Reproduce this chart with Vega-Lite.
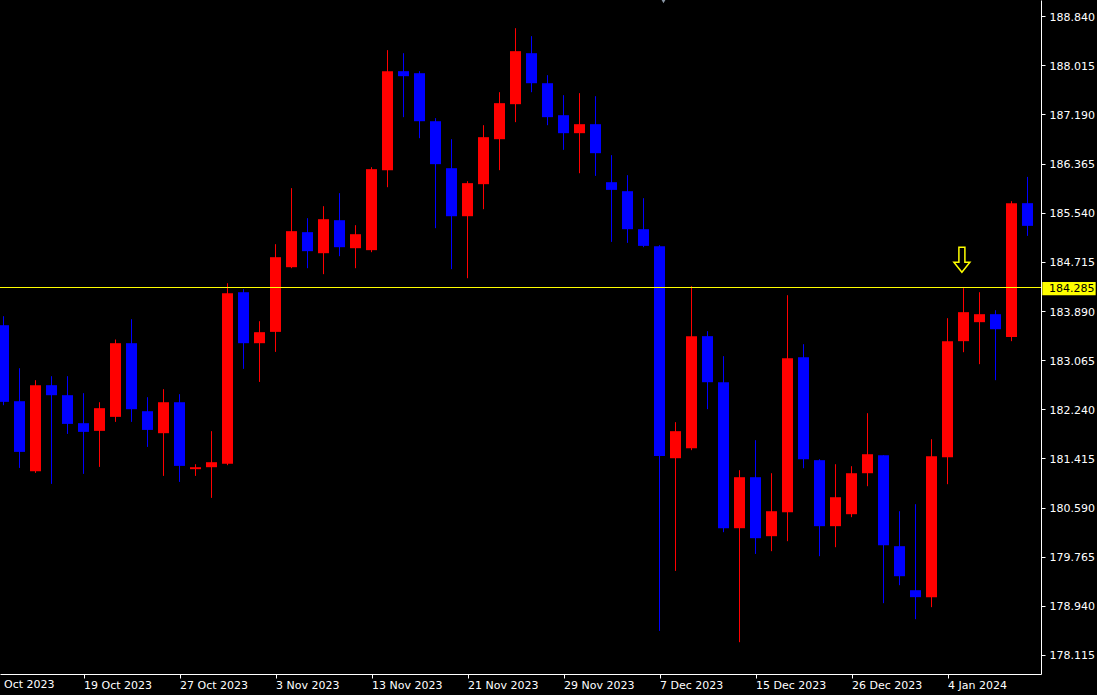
{
  "$schema": "https://vega.github.io/schema/vega-lite/v6.json",
  "autosize": {"type": "none"},
  "width": 1041,
  "height": 674,
  "padding": {"left": 0, "top": 0, "right": 56, "bottom": 21},
  "background": "#000000",
  "config": {"view": {"stroke": null}, "font": "DejaVu Sans", "scale": {"continuousPadding": 0}},
  "datasets": {
    "candles": [
    {"i":0,"open":183.652,"high":183.803,"low":182.309,"close":182.365},
    {"i":1,"open":182.376,"high":182.930,"low":181.256,"close":181.525},
    {"i":2,"open":181.201,"high":182.729,"low":181.172,"close":182.645},
    {"i":3,"open":182.645,"high":182.796,"low":180.988,"close":182.477},
    {"i":4,"open":182.477,"high":182.796,"low":181.827,"close":181.995},
    {"i":5,"open":182.007,"high":182.511,"low":181.156,"close":181.861},
    {"i":6,"open":181.878,"high":182.359,"low":181.273,"close":182.259},
    {"i":7,"open":182.113,"high":183.412,"low":182.029,"close":183.350},
    {"i":8,"open":183.350,"high":183.753,"low":182.029,"close":182.242},
    {"i":9,"open":182.208,"high":182.443,"low":181.609,"close":181.894},
    {"i":10,"open":181.839,"high":182.578,"low":181.122,"close":182.359},
    {"i":11,"open":182.359,"high":182.494,"low":181.021,"close":181.290},
    {"i":12,"open":181.235,"high":181.318,"low":181.122,"close":181.268},
    {"i":13,"open":181.268,"high":181.873,"low":180.753,"close":181.352},
    {"i":14,"open":181.324,"high":184.357,"low":181.302,"close":184.190},
    {"i":15,"open":184.206,"high":184.257,"low":182.919,"close":183.350},
    {"i":16,"open":183.350,"high":183.719,"low":182.700,"close":183.535},
    {"i":17,"open":183.540,"high":185.012,"low":183.204,"close":184.794},
    {"i":18,"open":184.626,"high":185.953,"low":184.609,"close":185.231},
    {"i":19,"open":185.214,"high":185.449,"low":184.609,"close":184.895},
    {"i":20,"open":184.861,"high":185.650,"low":184.509,"close":185.432},
    {"i":21,"open":185.415,"high":185.869,"low":184.811,"close":184.962},
    {"i":22,"open":184.945,"high":185.331,"low":184.609,"close":185.180},
    {"i":23,"open":184.912,"high":186.305,"low":184.878,"close":186.272},
    {"i":24,"open":186.255,"high":188.270,"low":185.969,"close":187.917},
    {"i":25,"open":187.917,"high":188.219,"low":187.145,"close":187.833},
    {"i":26,"open":187.883,"high":187.917,"low":186.792,"close":187.077},
    {"i":27,"open":187.077,"high":187.128,"low":185.281,"close":186.356},
    {"i":28,"open":186.288,"high":186.775,"low":184.593,"close":185.482},
    {"i":29,"open":185.482,"high":186.070,"low":184.441,"close":186.037},
    {"i":30,"open":186.020,"high":187.010,"low":185.600,"close":186.809},
    {"i":31,"open":186.775,"high":187.564,"low":186.255,"close":187.380},
    {"i":32,"open":187.363,"high":188.639,"low":187.061,"close":188.253},
    {"i":33,"open":188.219,"high":188.505,"low":187.564,"close":187.715},
    {"i":34,"open":187.715,"high":187.850,"low":187.010,"close":187.145},
    {"i":35,"open":187.178,"high":187.514,"low":186.596,"close":186.876},
    {"i":36,"open":186.876,"high":187.548,"low":186.204,"close":187.027},
    {"i":37,"open":187.027,"high":187.497,"low":186.159,"close":186.540},
    {"i":38,"open":186.053,"high":186.507,"low":185.051,"close":185.924},
    {"i":39,"open":185.902,"high":186.171,"low":185.034,"close":185.264},
    {"i":40,"open":185.264,"high":185.785,"low":184.962,"close":184.984},
    {"i":41,"open":184.979,"high":184.996,"low":178.520,"close":181.458},
    {"i":42,"open":181.419,"high":182.024,"low":179.527,"close":181.873},
    {"i":43,"open":181.587,"high":184.307,"low":181.554,"close":183.468},
    {"i":44,"open":183.468,"high":183.552,"low":182.242,"close":182.695},
    {"i":45,"open":182.695,"high":183.132,"low":180.177,"close":180.244},
    {"i":46,"open":180.244,"high":181.218,"low":178.330,"close":181.100},
    {"i":47,"open":181.100,"high":181.722,"low":179.812,"close":180.076},
    {"i":48,"open":180.110,"high":181.167,"low":179.858,"close":180.529},
    {"i":49,"open":180.513,"high":184.156,"low":180.026,"close":183.098},
    {"i":50,"open":183.115,"high":183.333,"low":181.251,"close":181.402},
    {"i":51,"open":181.386,"high":181.402,"low":179.774,"close":180.278},
    {"i":52,"open":180.278,"high":181.318,"low":179.925,"close":180.764},
    {"i":53,"open":180.479,"high":181.285,"low":180.429,"close":181.167},
    {"i":54,"open":181.167,"high":182.175,"low":180.949,"close":181.486},
    {"i":55,"open":181.470,"high":181.470,"low":178.985,"close":179.959},
    {"i":56,"open":179.942,"high":180.529,"low":179.287,"close":179.438},
    {"i":57,"open":179.203,"high":180.647,"low":178.716,"close":179.086},
    {"i":58,"open":179.086,"high":181.738,"low":178.918,"close":181.453},
    {"i":59,"open":181.436,"high":183.770,"low":180.983,"close":183.384},
    {"i":60,"open":183.384,"high":184.274,"low":183.199,"close":183.871},
    {"i":61,"open":183.703,"high":184.206,"low":182.998,"close":183.837},
    {"i":62,"open":183.837,"high":183.904,"low":182.729,"close":183.585},
    {"i":63,"open":183.456,"high":185.734,"low":183.384,"close":185.701},
    {"i":64,"open":185.701,"high":186.142,"low":185.152,"close":185.320}
    ],
    "one": [{"n": 1}]
  },
  "encoding": {
    "y": {
      "type": "quantitative",
      "scale": {"domain": [177.796, 189.112], "nice": false, "zero": false, "padding": 0},
      "axis": {
        "orient": "right", "title": null, "grid": false,
        "values": [178.115, 178.94, 179.765, 180.59, 181.415, 182.24, 183.065, 183.89, 184.715, 185.54, 186.365, 187.19, 188.015, 188.84],
        "format": ".3f",
        "domainColor": "#ffffff", "tickColor": "#ffffff", "tickSize": 4,
        "labelColor": "#ffffff", "labelFont": "DejaVu Sans", "labelFontSize": 11,
        "labelAlign": "left", "labelBaseline": "middle", "labelPadding": 4, "labelOffset": 1,
        "labelOverlap": false, "labelBound": false, "labelFlush": false
      }
    }
  },
  "layer": [
    {
      "data": {"name": "candles"},
      "mark": {"type": "rule", "strokeWidth": 1},
      "encoding": {
        "x": {
          "field": "i", "type": "quantitative",
          "scale": {"domain": [-0.21875, 64.84375], "nice": false, "zero": false, "padding": 0},
          "axis": {
            "orient": "bottom", "title": null, "grid": false,
            "values": [5, 11, 17, 23, 29, 35, 41, 47, 53, 59],
            "labelExpr": "['11 Oct 2023','19 Oct 2023','27 Oct 2023','3 Nov 2023','13 Nov 2023','21 Nov 2023','29 Nov 2023','7 Dec 2023','15 Dec 2023','26 Dec 2023','4 Jan 2024'][(datum.value + 1) / 6]",
            "domainColor": "#ffffff", "tickColor": "#ffffff", "tickSize": 4,
            "labelColor": "#ffffff", "labelFont": "DejaVu Sans", "labelFontSize": 11,
            "labelAlign": "left", "labelBaseline": "top", "labelPadding": 1,
            "labelOverlap": false, "labelBound": false, "labelFlush": false
          }
        },
        "y": {"field": "low"},
        "y2": {"field": "high"},
        "color": {"condition": {"test": "datum.close >= datum.open", "value": "#ff0000"}, "value": "#0000ff"}
      }
    },
    {
      "data": {"name": "candles"},
      "mark": {"type": "bar", "width": 11},
      "encoding": {
        "x": {"field": "i", "type": "quantitative"},
        "y": {"field": "open"},
        "y2": {"field": "close"},
        "color": {"condition": {"test": "datum.close >= datum.open", "value": "#ff0000"}, "value": "#0000ff"}
      }
    },
    {
      "data": {"name": "one"},
      "mark": {"type": "rule", "color": "#ffff00", "strokeWidth": 1},
      "encoding": {"y": {"datum": 184.285}}
    },
    {
      "data": {"name": "one"},
      "mark": {"type": "rect", "color": "#ffff00"},
      "encoding": {
        "x": {"datum": 64.925, "type": "quantitative"}, "x2": {"datum": 68.26},
        "y": {"datum": 184.379}, "y2": {"datum": 184.156}
      }
    },
    {
      "data": {"name": "one"},
      "mark": {"type": "text", "text": "184.285", "color": "#000000", "font": "DejaVu Sans", "fontSize": 11, "align": "left", "baseline": "middle", "dy": 1},
      "encoding": {"x": {"datum": 65.34, "type": "quantitative"}, "y": {"datum": 184.285}}
    },
    {
      "data": {"name": "one"},
      "mark": {"type": "text", "text": "Oct 2023", "color": "#ffffff", "font": "DejaVu Sans", "fontSize": 11, "align": "left", "baseline": "top"},
      "encoding": {"x": {"datum": 0.03, "type": "quantitative"}, "y": {"datum": 177.709}}
    },
    {
      "data": {"name": "one"},
      "mark": {"type": "point", "shape": "M -0.24 -1 L 0.24 -1 L 0.24 0.2 L 0.64 0.2 L 0 1 L -0.64 0.2 L -0.24 0.2 Z", "size": 625, "filled": false, "fill": "#000000", "fillOpacity": 1, "stroke": "#ffff00", "strokeWidth": 1.5, "opacity": 1},
      "encoding": {"x": {"datum": 59.9, "type": "quantitative"}, "y": {"datum": 184.752}}
    },
    {
      "data": {"name": "one"},
      "mark": {"type": "point", "shape": "triangle-down", "size": 14, "filled": true, "color": "#8a97a6", "opacity": 1},
      "encoding": {"x": {"datum": 41.25, "type": "quantitative"}, "y": {"datum": 189.085}}
    }
  ]
}
